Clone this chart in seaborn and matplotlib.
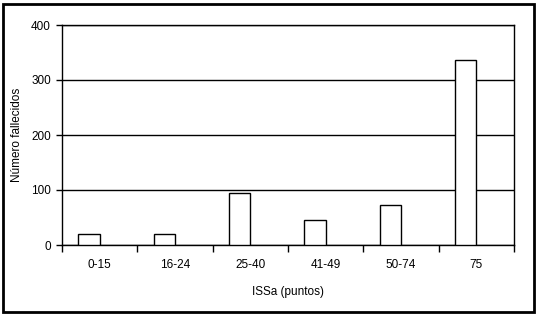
import numpy as np
import pandas as pd
import matplotlib
matplotlib.use("Agg")
import matplotlib.pyplot as plt
import seaborn as sns
from matplotlib.patches import Rectangle

# --- Data ---
categorias = ["0-15", "16-24", "25-40", "41-49", "50-74", "75"]
fallecidos = [20, 20, 94, 45, 72, 336]
y_ticks = [0, 100, 200, 300, 400]

sns.set_style("white")
plt.rcParams["font.family"] = ["Liberation Sans", "DejaVu Sans"]
plt.rcParams["font.size"] = 8.5
plt.rcParams["text.color"] = "black"
plt.rcParams["axes.labelcolor"] = "black"
plt.rcParams["xtick.color"] = "black"
plt.rcParams["ytick.color"] = "black"

# Excel-style clustered chart: one real series plus one empty series
df = pd.DataFrame({
    "cat": categorias * 2,
    "valor": fallecidos + [np.nan] * len(categorias),
    "serie": ["Fallecidos"] * len(categorias) + ["vacio"] * len(categorias),
})

fig = plt.figure(figsize=(5.38, 3.16), dpi=100)
ax = fig.add_axes([62 / 538, 71 / 316, 452 / 538, 220 / 316])

sns.barplot(data=df, x="cat", y="valor", hue="serie", order=categorias,
            hue_order=["Fallecidos", "vacio"],
            palette=["white", "white"], edgecolor="black", linewidth=1.0,
            width=0.57, dodge=True, legend=False, ax=ax, zorder=3)

ax.set_ylim(0, 400)
ax.set_xlim(-0.5, len(categorias) - 0.5)
ax.set_yticks(y_ticks)
ax.yaxis.grid(True, color="black", linewidth=1.0, zorder=0)
ax.set_axisbelow(True)

# tick marks at category boundaries, labels centered
ax.set_xticks(np.arange(-0.5, len(categorias), 1.0))
ax.set_xticklabels([])
ax.set_xticks(np.arange(len(categorias)), minor=True)
ax.set_xticklabels(categorias, minor=True)
ax.tick_params(axis="x", which="major", bottom=True, direction="out", length=5, width=1, color="black")
ax.tick_params(axis="x", which="minor", bottom=True, length=0, pad=10)
ax.tick_params(axis="y", left=True, direction="out", length=4, width=1, color="black", pad=4)

for s in ax.spines.values():
    s.set_color("black")
    s.set_linewidth(1.0)
    s.set_visible(True)

ax.set_xlabel("ISSa (puntos)", labelpad=11)
ax.set_ylabel("Número fallecidos", labelpad=6)

# outer chart frame
fig.patches.append(Rectangle((3 / 538, 4 / 316), 531 / 538, 308 / 316,
                             transform=fig.transFigure, fill=False,
                             edgecolor="black", linewidth=2.0))

plt.savefig("out.png", dpi=100)
